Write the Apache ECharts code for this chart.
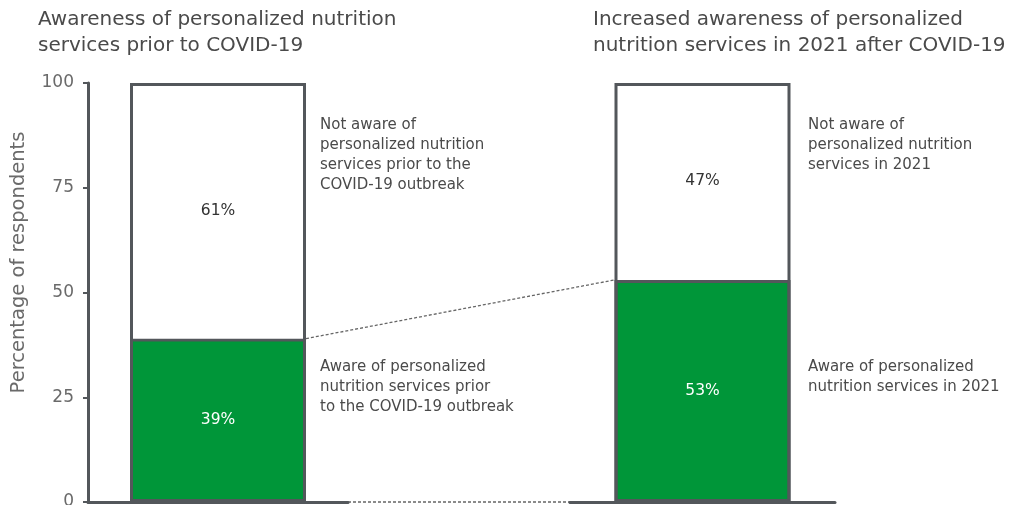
<!DOCTYPE html>
<html lang="en">
<head>
    <meta charset="UTF-8">
    <title>Personalized nutrition awareness</title>
    <script src="https://cdn.jsdelivr.net/npm/echarts@6/dist/echarts.min.js"></script>
    <style>
        html, body { margin: 0; padding: 0; background: #fff; }
        #main { width: 1013px; height: 505px; }
    </style>
</head>
<body>
<div id="main"></div>
<script>
    // data
    var periods = ['Prior to COVID-19', '2021'];
    var awareVals = [39, 53];
    var notAwareVals = [61, 47];
    var yTicks = [0, 25, 50, 75, 100];

    var green = '#009639';
    var edge = '#53575b';
    var txt = '#4a4a4a';
    var font = 'DejaVu Sans';
    var barW = 176;

    // two small grids, one per bar
    var g1 = {left: 88, width: 260};
    var g2 = {left: 570, width: 265};

    var myChart = echarts.init(document.getElementById('main'));

    var pct = function (p) { return p.value + '%'; };

    var option = {
        animation: false,
        textStyle: {fontFamily: font},
        grid: [
            {left: g1.left, width: g1.width, top: 83, bottom: 3, outerBoundsMode: 'none', containLabel: false},
            {left: g2.left, width: g2.width, top: 83, bottom: 3, outerBoundsMode: 'none', containLabel: false}
        ],
        xAxis: [0, 1].map(function (i) {
            return {
                type: 'category',
                gridIndex: i,
                data: [periods[i]],
                axisLine: {lineStyle: {color: edge, width: 3}},
                axisTick: {show: false},
                axisLabel: {show: false}
            };
        }),
        yAxis: [
            {
                type: 'value', gridIndex: 0, min: yTicks[0], max: yTicks[yTicks.length - 1], interval: 25,
                name: 'Percentage of respondents',
                nameLocation: 'middle',
                nameGap: 59,
                nameTextStyle: {fontSize: 19.5, color: '#6a6a6a', fontFamily: font, padding: [0, 0, 0, 60]},
                axisLine: {show: true, lineStyle: {color: edge, width: 3}},
                axisTick: {show: true, length: 5, lineStyle: {color: edge, width: 2}},
                axisLabel: {fontSize: 17, color: '#6a6a6a', margin: 14, fontFamily: font},
                splitLine: {show: false}
            },
            {
                type: 'value', gridIndex: 1, min: 0, max: 100, show: false
            }
        ],
        series: [0, 1].map(function (i) {
            return [
                {
                    type: 'bar', xAxisIndex: i, yAxisIndex: i, stack: 's' + i,
                    barWidth: barW, barGap: '-100%',
                    data: [awareVals[i]],
                    itemStyle: {color: green, borderColor: edge, borderWidth: 3},
                    label: {show: true, position: 'inside', color: '#fff', fontSize: 15.5, formatter: pct}
                },
                {
                    type: 'bar', xAxisIndex: i, yAxisIndex: i, stack: 's' + i,
                    barWidth: barW, barGap: '-100%',
                    data: [notAwareVals[i]],
                    itemStyle: {color: '#fff', borderWidth: 0},
                    label: {show: true, position: 'inside', color: '#333', fontSize: 15.5, formatter: pct}
                },
                {
                    // outline of the whole column
                    type: 'bar', xAxisIndex: i, yAxisIndex: i, silent: true,
                    barWidth: barW, barGap: '-100%', z: 3,
                    data: [awareVals[i] + notAwareVals[i]],
                    itemStyle: {color: 'rgba(0,0,0,0)', borderColor: edge, borderWidth: 3}
                }
            ];
        }).reduce(function (a, b) { return a.concat(b); }, [])
    };
    myChart.setOption(option);

    // connectors and annotations
    var p1 = myChart.convertToPixel({xAxisIndex: 0, yAxisIndex: 0}, [0, awareVals[0]]);
    var p2 = myChart.convertToPixel({xAxisIndex: 1, yAxisIndex: 1}, [0, awareVals[1]]);
    var base = myChart.convertToPixel({xAxisIndex: 0, yAxisIndex: 0}, [0, 0]);
    var dash = {stroke: '#666', lineWidth: 1.3, lineDash: [3, 2]};

    var note = function (x, y, s) {
        return {
            type: 'text', left: x, top: y, silent: true,
            style: {text: s, fill: txt, font: '15px "' + font + '"', lineHeight: 20}
        };
    };

    myChart.setOption({
        graphic: [
            {
                type: 'line', silent: true,
                shape: {x1: p1[0] + barW / 2, y1: p1[1], x2: p2[0] - barW / 2, y2: p2[1]},
                style: dash
            },
            {
                type: 'line', silent: true,
                shape: {x1: g1.left + g1.width, y1: base[1], x2: g2.left, y2: base[1]},
                style: dash
            },
            {
                type: 'text', left: 38, top: 7, silent: true,
                style: {text: 'Awareness of personalized nutrition\nservices prior to COVID-19', fill: txt,
                    font: '20px "' + font + '"', lineHeight: 26}
            },
            {
                type: 'text', left: 593, top: 7, silent: true,
                style: {text: 'Increased awareness of personalized\nnutrition services in 2021 after COVID-19', fill: txt,
                    font: '20px "' + font + '"', lineHeight: 26}
            },
            note(320, 115, 'Not aware of\npersonalized nutrition\nservices prior to the\nCOVID-19 outbreak'),
            note(320, 357, 'Aware of personalized\nnutrition services prior\nto the COVID-19 outbreak'),
            note(808, 115, 'Not aware of\npersonalized nutrition\nservices in 2021'),
            note(808, 357, 'Aware of personalized\nnutrition services in 2021')
        ]
    });
</script>
</body>
</html>
